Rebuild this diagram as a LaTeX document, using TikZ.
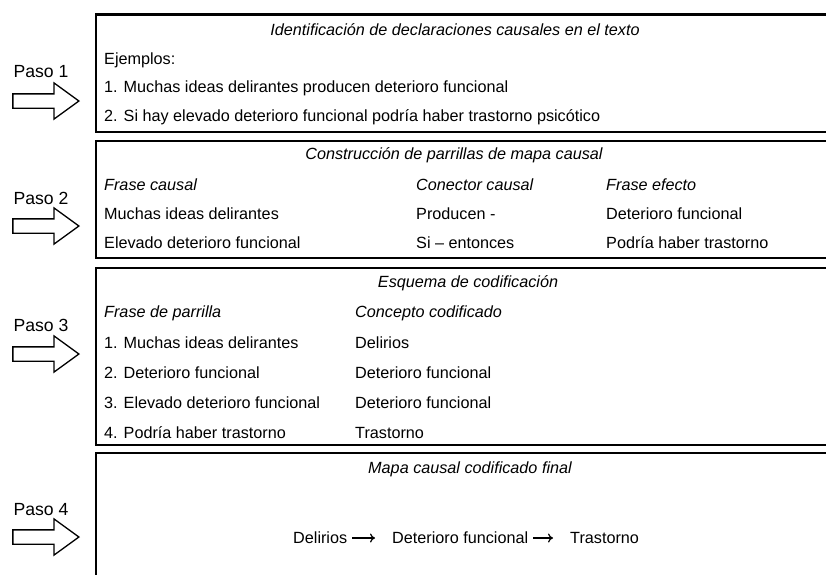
\documentclass[tikz,border=0pt]{standalone}
\usepackage{fontspec}
\setmainfont{Liberation Sans}
\usetikzlibrary{shapes.arrows,arrows.meta}
\tikzset{
  panel/.style={draw=black,line width=2.4pt},
  txt/.style={anchor=west,inner sep=0pt,font=\fontsize{16.2}{19}\selectfont},
  ttl/.style={anchor=center,inner sep=0pt,font=\fontsize{16.2}{19}\selectfont\itshape},
  hdr/.style={txt,font=\fontsize{16.2}{19}\selectfont\itshape},
  paso/.style={anchor=center,inner sep=0pt,font=\fontsize{17.6}{20}\selectfont},
  bigarrow/.style={single arrow,draw=black,line width=1.3pt,fill=white,
    minimum height=66pt,inner sep=6.5pt,single arrow head extend=11pt,
    single arrow tip angle=72,single arrow head indent=0pt,anchor=tip},
  chainarrow/.style={-{To[length=5pt,width=9pt]},line width=1.2pt,shorten <=5pt,shorten >=17pt}
}
\begin{document}
\begin{tikzpicture}[x=1pt,y=-1pt]
\clip (0,0) rectangle (826,574);
\fill[white] (0,0) rectangle (826,574);
% panels
\draw[panel] (96,14.5) rectangle (840,132);
\draw[panel] (96,141) rectangle (840,258);
\draw[panel] (96,268) rectangle (840,445);
\draw[panel] (96,453) rectangle (840,600);
% steps
\node[paso] (p1) at (41,72) {Paso 1};
\node[bigarrow] (a1) at (80,101) {};
\node[paso] (p2) at (41,198) {Paso 2};
\node[bigarrow] (a2) at (80,226) {};
\node[paso] (p3) at (41,325) {Paso 3};
\node[bigarrow] (a3) at (80,354) {};
\node[paso] (p4) at (41,510) {Paso 4};
\node[bigarrow] (a4) at (80,537) {};
% box 1
\node[ttl] (t1) at (455,30) {Identificación de declaraciones causales en el texto};
\node[txt] (e0) at (104,60) {Ejemplos:};
\node[txt] (e1) at (104,88) {1. Muchas ideas delirantes producen deterioro funcional};
\node[txt] (e2) at (104,117) {2. Si hay elevado deterioro funcional podría haber trastorno psicótico};
% box 2
\node[ttl] (t2) at (454,155) {Construcción de parrillas de mapa causal};
\node[hdr] (h21) at (104,185) {Frase causal};
\node[hdr] (h22) at (416,185) {Conector causal};
\node[hdr] (h23) at (606,185) {Frase efecto};
\node[txt] (r11) at (104,214) {Muchas ideas delirantes};
\node[txt] (r12) at (416,214) {Producen -};
\node[txt] (r13) at (606,214) {Deterioro funcional};
\node[txt] (r21) at (104,243) {Elevado deterioro funcional};
\node[txt] (r22) at (416,243) {Si – entonces};
\node[txt] (r23) at (606,243) {Podría haber trastorno};
% box 3
\node[ttl] (t3) at (468,283) {Esquema de codificación};
\node[hdr] (h31) at (104,313) {Frase de parrilla};
\node[hdr] (h32) at (355,313) {Concepto codificado};
\node[txt] (c11) at (104,343) {1. Muchas ideas delirantes};
\node[txt] (c12) at (355,343) {Delirios};
\node[txt] (c21) at (104,373) {2. Deterioro funcional};
\node[txt] (c22) at (355,373) {Deterioro funcional};
\node[txt] (c31) at (104,403) {3. Elevado deterioro funcional};
\node[txt] (c32) at (355,403) {Deterioro funcional};
\node[txt] (c41) at (104,433) {4. Podría haber trastorno};
\node[txt] (c42) at (355,433) {Trastorno};
% box 4
\node[ttl] (t4) at (470,469) {Mapa causal codificado final};
\node[txt] (m1) at (293,538) {Delirios};
\node[txt] (m2) at (392,538) {Deterioro funcional};
\node[txt] (m3) at (570,538) {Trastorno};
\draw[chainarrow] (m1.east) -- (m2.west);
\draw[chainarrow] (m2.east) -- (m3.west);
\end{tikzpicture}
\end{document}
